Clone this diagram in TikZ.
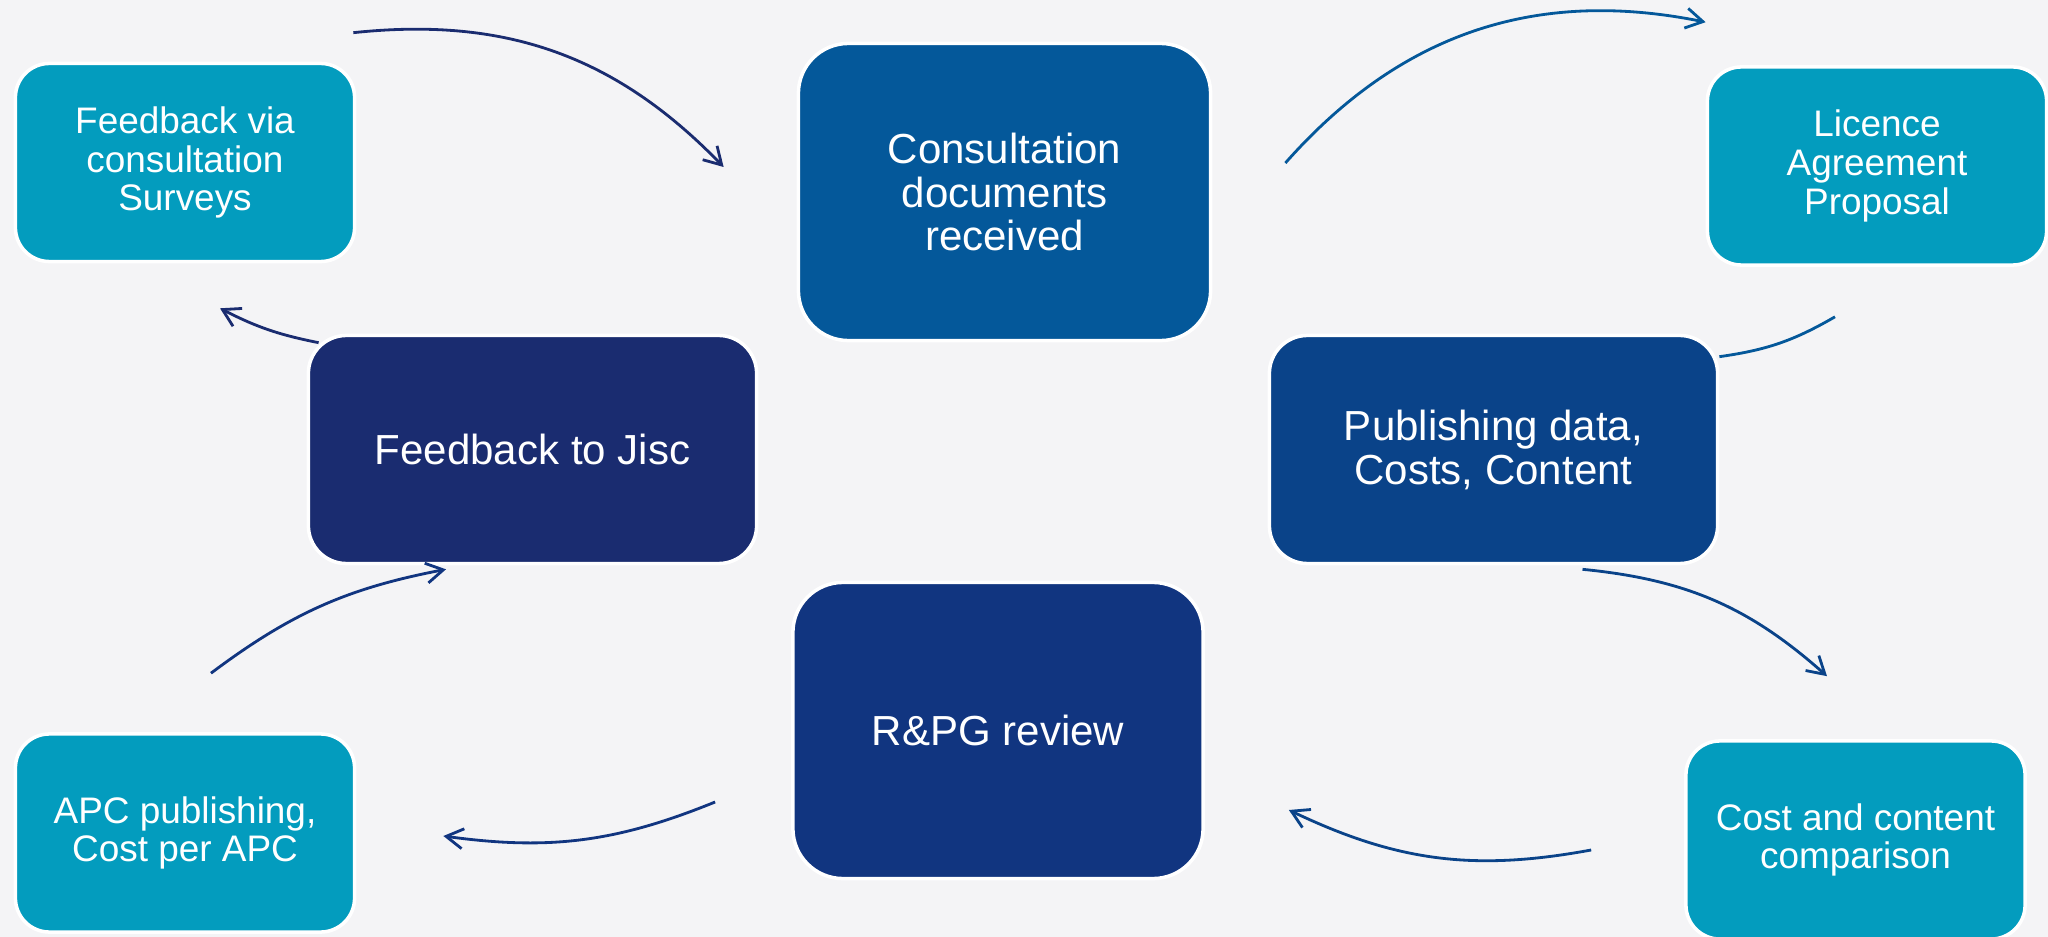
\documentclass[tikz,border=0pt]{standalone}
\usepackage{fontspec}
\setmainfont{Liberation Sans}
\usetikzlibrary{arrows.meta}
\definecolor{bgc}{HTML}{F4F4F6}
\definecolor{tealc}{HTML}{039CBE}
\definecolor{consc}{HTML}{04589A}
\definecolor{pubc}{HTML}{0A4389}
\definecolor{rpgc}{HTML}{113580}
\definecolor{jiscc}{HTML}{1A2C70}
\tikzset{lstep/.style={rectangle,draw=white,line width=1pt,rounded corners=3.4mm,fill=tealc,text=white,align=center,inner sep=0pt,minimum width=3.39cm,minimum height=1.98cm,font=\fontsize{10.5}{11}\selectfont},
	 dstep/.style={rectangle,draw=white,line width=1pt,text=white,align=center,inner sep=0pt,font=\fontsize{11.95}{12.5}\selectfont},
	 cyc/.style={line width=0.8pt,-{Straight Barb[length=1.7mm,width=2mm]}},
	 x=0.01cm, y=0.01cm
	 }

\begin{document}
\begin{tikzpicture} % consultation cycle, eight steps
	\useasboundingbox (0,0) rectangle (2048,-937);
	\fill[bgc] (0,0) rectangle (2048,-937);
	\node[dstep,fill=consc,minimum width=4.12cm,minimum height=2.97cm,rounded corners=5mm] (s1) at (1004.5,-192) {Consultation\\documents\\received};
	\node[lstep] (s2) at (1877,-166) {Licence\\Agreement\\Proposal};
	\node[dstep,fill=pubc,minimum width=4.48cm,minimum height=2.28cm,rounded corners=3.8mm] (s3) at (1493.5,-449.5) {Publishing data,\\Costs, Content};
	\node[lstep] (s4) at (1855.5,-840) {Cost and content\\comparison};
	\node[dstep,fill=rpgc,minimum width=4.1cm,minimum height=2.96cm,rounded corners=5mm] (s5) at (998,-730.5) {R\&PG review};
	\node[lstep] (s6) at (185,-833) {APC publishing,\\Cost per APC};
	\node[dstep,fill=jiscc,minimum width=4.48cm,minimum height=2.28cm,rounded corners=3.8mm] (s7) at (532.5,-449.5) {Feedback to Jisc};
	\node[lstep] (s8) at (185,-162.5) {Feedback via\\consultation\\Surveys};
	\draw[cyc,jiscc] ([shift={(-3,29)}]s8.north east) to[bend left=26] ([shift={(-73,25)}]s1.west);
	\draw[cyc,consc] ([shift={(73,29)}]s1.east) to[bend left=30] ([shift={(0,43)}]s2.north west);
	\draw[line width=0.8pt,consc] ([shift={(-42,-50)}]s2.south) to[bend left=11] ([shift={(0,-23)}]s3.north east);
	\draw[cyc,pubc] ([shift={(89,-4)}]s3.south) to[bend left=18] ([shift={(-28.5,63)}]s4.north);
	\draw[cyc,pubc] ([shift={(-93,-10)}]s4.west) to[bend left=18] ([shift={(84,-79.5)}]s5.east);
	\draw[cyc,rpgc] ([shift={(-76,-71.5)}]s5.west) to[bend left=15] ([shift={(87,-3)}]s6.east);
	\draw[cyc,rpgc] ([shift={(26,59)}]s6.north) to[bend left=13] ([shift={(-86.5,-4)}]s7.south);
	\draw[cyc,jiscc] ([shift={(12,-9)}]s7.north west) to[bend left=8] ([shift={(35,-45)}]s8.south);
\end{tikzpicture}
\end{document}
